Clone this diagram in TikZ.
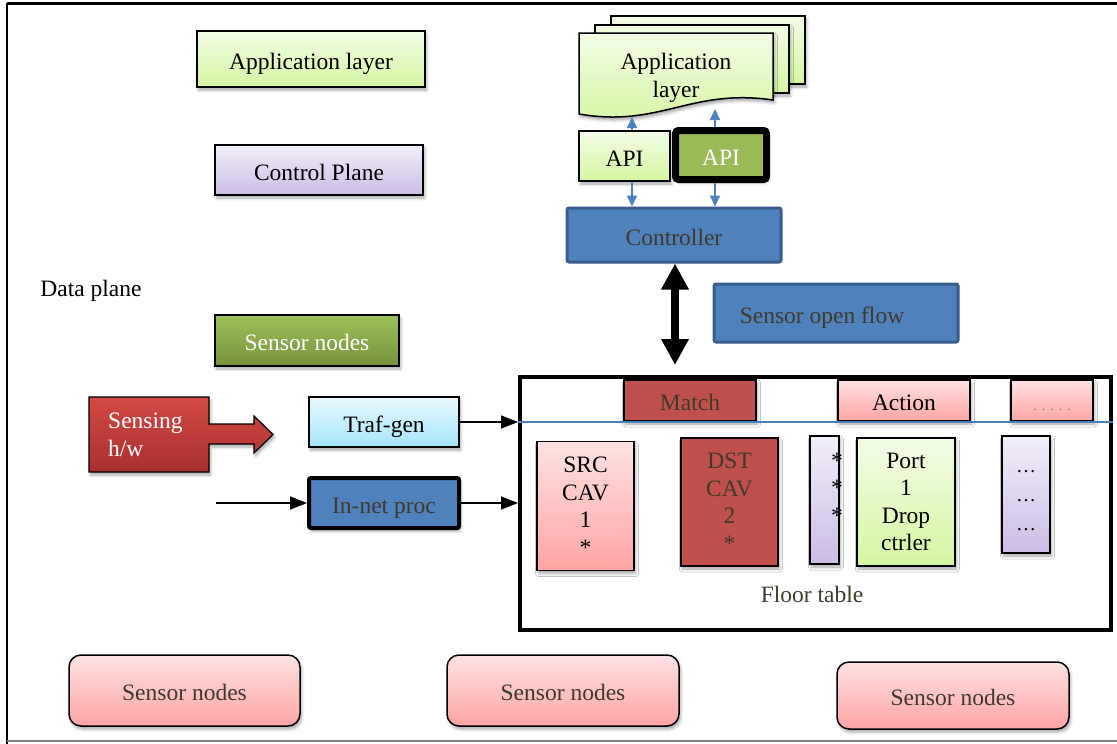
\documentclass[tikz,border=0pt]{standalone}
\usepackage{fontspec}
\setmainfont{Liberation Serif}
\usetikzlibrary{arrows.meta,shadows.blur,calc}
\definecolor{lgTop}{HTML}{F2FCE6}
\definecolor{lgBot}{HTML}{D4F6A2}
\definecolor{lvTop}{HTML}{F2EEFA}
\definecolor{lvBot}{HTML}{CBBCE4}
\definecolor{gnTop}{HTML}{9EC15A}
\definecolor{gnBot}{HTML}{76923C}
\definecolor{gnFlat}{HTML}{9BBB59}
\definecolor{cyTop}{HTML}{EAF9FF}
\definecolor{cyBot}{HTML}{A4E5FA}
\definecolor{bluF}{HTML}{4F81BD}
\definecolor{bluD}{HTML}{385D8A}
\definecolor{bluL}{HTML}{4A7EBB}
\definecolor{redF}{HTML}{C0504D}
\definecolor{redTop}{HTML}{D24A46}
\definecolor{redBot}{HTML}{A8302D}
\definecolor{pkTop}{HTML}{FFE2E2}
\definecolor{pkBot}{HTML}{FFA4A4}
\definecolor{dtext}{HTML}{3F3A2B}
\begin{document}
\begin{tikzpicture}[x=1pt,y=-1pt,
  font=\fontsize{23.5}{27.5}\selectfont,
  shad/.style={blur shadow={shadow xshift=1.5pt,shadow yshift=-3pt,shadow blur radius=3pt,shadow opacity=35}},
  sl/.style={text height=21pt,text depth=1pt},
  box/.style={draw=black,line width=1.5pt,inner sep=0pt,align=center,shad},
  lgreen/.style={box,top color=lgTop,bottom color=lgBot},
  lpurple/.style={box,top color=lvTop,bottom color=lvBot},
  pinkbox/.style={box,top color=pkTop,bottom color=pkBot},
  bluebox/.style={draw=bluD,line width=3pt,fill=bluF,text=dtext,inner sep=0pt,align=center,rounded corners=2pt},
  redbox/.style={box,fill=redF,text=dtext},
  snode/.style={pinkbox,rounded corners=12pt,text=dtext,sl},
  barrow/.style={draw=bluF,line width=2pt,-{Triangle[width=10pt,length=11pt]}},
  karrow/.style={draw=black,line width=1.5pt,-{Triangle[width=13pt,length=17pt]}},
  dblarrow/.style={draw=black,line width=8pt,{Triangle[width=26pt,length=26pt]}-{Triangle[width=26pt,length=26pt]}},
]
\useasboundingbox (0,0) rectangle (1117,744);
% page frame lines
\draw[line width=3pt] (7,3) -- (1117,3);
\draw[line width=2pt] (7,3) -- (7,744);
\draw[line width=1.5pt,gray] (7,741) -- (1117,741);

% left legend
\node[lgreen,sl,minimum width=228,minimum height=56] (app1) at (311,59) {Application layer};
\node[lpurple,sl,minimum width=208,minimum height=50] (cplane) at (319,170) {Control Plane};
\node[inner sep=0pt] (dplane) at (91,291) {Data plane};
\node[box,sl,top color=gnTop,bottom color=gnBot,text=white,minimum width=184,minimum height=51] (sgreen) at (307,340.5) {Sensor nodes};

% stacked application documents
\path[shad,draw=black,line width=1.5pt,top color=lgTop,bottom color=lgBot] (611,16) rectangle (805,84);
\path[shad,draw=black,line width=1.5pt,top color=lgTop,bottom color=lgBot] (595,25) rectangle (789,93);
\path[shad,draw=black,line width=1.5pt,top color=lgTop,bottom color=lgBot] (579,33) -- (773,33) -- (773,100) .. controls (690,88) and (660,128) .. (579,114) -- cycle;
\node[align=center,inner sep=0pt] (appdoc) at (676,78) {Application\\layer};

% APIs
\node[lgreen,sl,minimum width=91,minimum height=50] (apiL) at (624.5,156) {API};
\node[draw=black,line width=7pt,fill=gnFlat,text=white,sl,minimum width=91,minimum height=49,inner sep=0pt,rounded corners=3pt,shad] (apiR) at (721,155) {API};

% controller
\node[bluebox,sl,minimum width=214,minimum height=54] (ctrl) at (674,235) {Controller};
\node[bluebox,sl,minimum width=244,minimum height=58] (sof) at (836,313) {Sensor open flow\hspace{28pt}};

\coordinate (docL) at (632,117);
\coordinate (docR) at (715,109);
\draw[barrow] ($(apiL.north)+(7.5,0)$) -- (docL);
\draw[barrow] ($(apiR.north)+(-6,0)$) -- (docR);
\draw[barrow] ($(apiL.south)+(7.5,0)$) -- ($(ctrl.north)+(-42,0)$);
\draw[barrow] ($(apiR.south)+(-6,0)$) -- ($(ctrl.north)+(41,0)$);

% flow table frame
\node[draw=black,line width=4pt,fill=white,minimum width=591,minimum height=253,inner sep=0pt] (frame) at (815.5,503.5) {};
\coordinate (dpA) at (675,365);
\draw[dblarrow] ($(ctrl.south)+(1,0)$) -- (dpA);

% sensing arrow shape
\path[shad,draw=black,line width=1.2pt,top color=redTop,bottom color=redBot]
  (89,397) -- (209,397) -- (209,424) -- (254,424) -- (254,416) -- (273,434.5)
  -- (254,453) -- (254,444) -- (209,444) -- (209,472) -- (89,472) -- cycle;
\node[align=left,text=white,inner sep=0pt,anchor=west] (sense) at (108,435) {Sensing\\h/w};

\node[box,sl,top color=cyTop,bottom color=cyBot,minimum width=150,minimum height=50] (tgen) at (384,422) {Traf-gen};
\node[draw=black,line width=4pt,fill=bluF,text=dtext,sl,minimum width=150,minimum height=50,inner sep=0pt,rounded corners=2pt,shad] (innet) at (384,503) {In-net proc};
\coordinate (inL) at (216,503);
\draw[karrow] (tgen.east) -- (tgen.east -| frame.west);
\draw[karrow] (inL) -- (innet.west);
\draw[karrow] (innet.east) -- (innet.east -| frame.west);

% header cells
\node[redbox,sl,minimum width=132,minimum height=41] (match) at (690,400.5) {Match};
\node[pinkbox,sl,minimum width=132,minimum height=41] (action) at (904,400.5) {Action};
\node[pinkbox,minimum width=82,minimum height=41] (more) at (1052,400.5) {};
\node[inner sep=0pt,text=gray,font=\fontsize{14}{16}\selectfont] (moredots) at (1052,410) {.\hspace{5pt}.\hspace{5pt}.\hspace{5pt}.\hspace{5pt}.};
\draw[bluL,line width=1.8pt] (frame.west |- match.south) -- (frame.east |- match.south);

% table columns
\node[pinkbox,minimum width=97,minimum height=129] (src) at (585.5,506) {SRC\\CAV\\1\\*};
\node[redbox,minimum width=97,minimum height=128] (dst) at (729.5,502) {DST\\CAV\\2\\*};
\node[lpurple,minimum width=29,minimum height=128] (purN) at (824.5,500) {};
\node[inner sep=0pt,align=center] (stars) at (837,488) {*\\*\\*};
\node[lgreen,minimum width=98,minimum height=128] (port) at (906,502) {Port\\1\\Drop\\ctrler};
\node[lpurple,minimum width=48,minimum height=117] (purR) at (1026,494.5) {};
\node[inner sep=0pt,align=center,font=\fontsize{20}{29}\selectfont] (ell) at (1026,501) {…\\…\\…};
\node[text=dtext,inner sep=0pt] (ftab) at (812,594) {Floor table};

% bottom sensor nodes
\node[snode,minimum width=231,minimum height=71] (s1) at (184.5,690.5) {Sensor nodes};
\node[snode,minimum width=232,minimum height=71] (s2) at (563,690.5) {Sensor nodes};
\node[snode,minimum width=232,minimum height=67] (s3) at (953,695.5) {Sensor nodes};
\end{tikzpicture}
\end{document}
